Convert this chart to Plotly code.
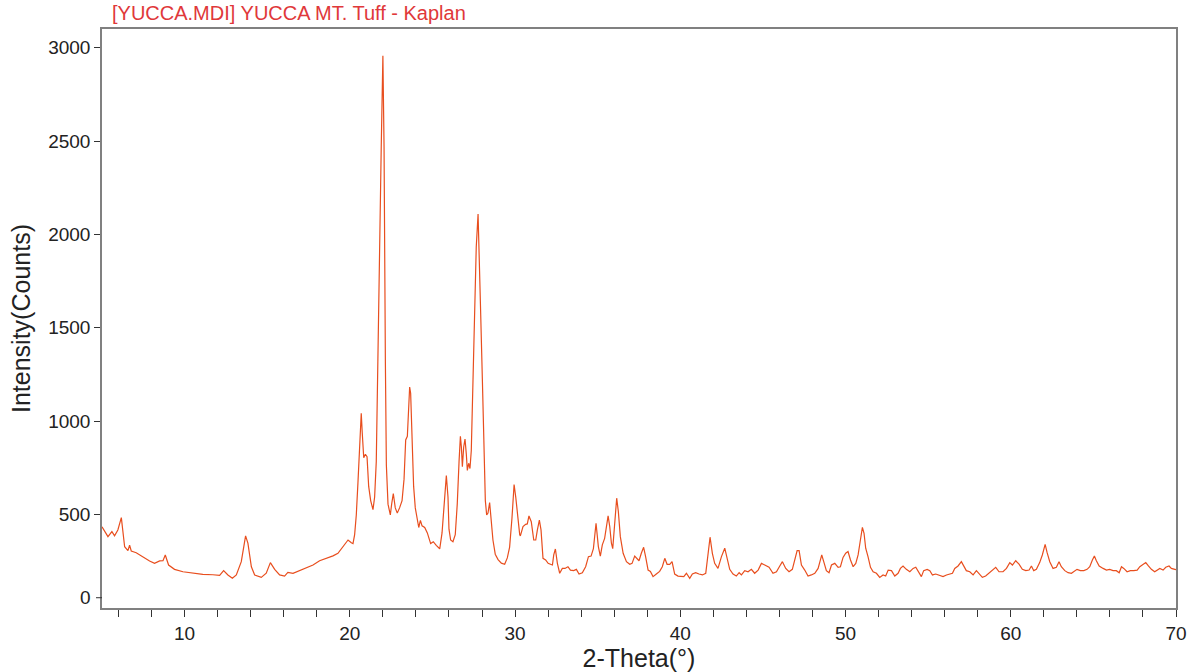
import plotly.graph_objects as go

two_theta = [
    5.0, 5.36, 5.6, 5.76, 5.96, 6.17, 6.37, 6.57, 6.67, 6.77, 7.07, 7.48, 7.88, 8.18, 8.49, 8.69, 8.83,
    9.03, 9.39, 9.9, 10.5, 11.1, 11.71, 12.12, 12.36, 12.62, 12.89, 13.13, 13.43, 13.69, 13.83, 14.04,
    14.24, 14.64, 14.94, 15.19, 15.45, 15.75, 16.05, 16.25, 16.56, 16.96, 17.37, 17.77, 18.17, 18.58,
    18.98, 19.28, 19.58, 19.89, 20.09, 20.19,
    20.29, 20.39, 20.49, 20.59, 20.69, 20.75, 20.84, 20.94, 21.04, 21.14, 21.26, 21.4, 21.5, 21.6,
    21.7, 21.8, 21.9, 22.0, 22.07, 22.15, 22.21, 22.31, 22.45, 22.53, 22.63, 22.75, 22.87, 23.01,
    23.16, 23.28, 23.38, 23.48, 23.56, 23.62, 23.68, 23.76, 23.86, 23.96, 24.06, 24.17, 24.27, 24.37,
    24.53, 24.69, 24.89, 25.05, 25.23, 25.44, 25.58, 25.7, 25.84, 25.94, 26.0, 26.1, 26.24, 26.38,
    26.5, 26.61, 26.69, 26.75, 26.81, 26.89, 26.97, 27.05, 27.11, 27.19, 27.27, 27.35, 27.45, 27.55,
    27.65, 27.76, 27.82, 27.92, 28.02, 28.12, 28.2, 28.28, 28.36, 28.46, 28.56, 28.66, 28.8, 28.97,
    29.17, 29.37, 29.53, 29.67, 29.81, 29.94, 30.04, 30.14, 30.28,
    30.32, 30.48, 30.64, 30.74, 30.84, 30.98, 31.13, 31.25, 31.35, 31.47, 31.57, 31.69, 31.85, 32.0,
    32.14, 32.26, 32.34, 32.44, 32.56, 32.7, 32.86, 33.02, 33.2, 33.35, 33.55, 33.71, 33.87, 34.07,
    34.27, 34.44, 34.6, 34.74, 34.9, 35.04, 35.16, 35.28, 35.42, 35.52, 35.63, 35.73, 35.83, 35.91,
    36.03, 36.15, 36.25, 36.37, 36.54, 36.74, 36.94, 37.08, 37.24, 37.38, 37.5, 37.64, 37.78, 37.9,
    38.05, 38.19, 38.35, 38.55, 38.75, 38.91, 39.06, 39.2, 39.36, 39.5, 39.66, 39.86, 40.07, 40.21,
    40.37, 40.57, 40.73, 40.93, 41.13, 41.34, 41.54, 41.68, 41.8, 41.94, 42.08, 42.28,
    42.49, 42.69, 42.83, 42.99, 43.19, 43.39, 43.56, 43.7, 43.9, 44.1, 44.3, 44.5, 44.71, 44.91, 45.11,
    45.37, 45.61, 45.82, 46.02, 46.18, 46.38, 46.58, 46.78, 46.93, 47.07, 47.19, 47.33, 47.53, 47.73,
    47.93, 48.14, 48.34, 48.44, 48.56, 48.68, 48.84, 49.0, 49.15, 49.35, 49.55, 49.69, 49.85, 50.01,
    50.15, 50.3, 50.46, 50.62, 50.76, 50.9, 51.02, 51.12, 51.22, 51.36, 51.51, 51.67, 51.87, 52.07,
    52.27, 52.43, 52.58, 52.78, 52.98, 53.18, 53.32, 53.48, 53.68, 53.89, 54.09, 54.25, 54.39, 54.59,
    54.73, 54.94, 55.1, 55.26, 55.46, 55.66, 55.9, 56.11, 56.31,
    56.47, 56.61, 56.81, 57.01, 57.15, 57.31, 57.52, 57.72, 57.92, 58.08, 58.28, 58.48, 58.69, 58.89,
    59.09, 59.29, 59.53, 59.74, 59.94, 60.1, 60.3, 60.5, 60.7, 60.91, 61.11, 61.25, 61.39, 61.55,
    61.75, 61.91, 62.08, 62.2, 62.36, 62.56, 62.76, 62.92, 63.06, 63.27, 63.47, 63.67, 63.87, 64.01,
    64.21, 64.42, 64.62, 64.78, 64.94, 65.06, 65.18, 65.35, 65.59, 65.79, 65.99, 66.19, 66.39, 66.56,
    66.7, 66.84, 67.04, 67.24, 67.44, 67.65, 67.81, 67.97, 68.17, 68.33, 68.51, 68.71, 68.86, 69.02,
    69.22, 69.38, 69.58, 69.72, 69.93, 70.0,
]

counts = [
    435, 382, 409, 387, 418, 484, 328, 307, 337, 305, 296, 272, 252, 239, 252, 253, 284,
    230, 207, 194, 186, 180, 178, 175, 200, 177, 159, 177, 248, 386, 347, 221,
    177, 164, 186, 243, 207, 177, 171, 191, 186, 200, 213, 230, 253, 266,
    279, 293, 328, 364, 349, 345,
    393, 498, 670, 843, 1043, 938, 804, 823, 810, 651, 575, 527, 594, 785,
    1416, 1857, 2469, 2957, 2469, 1321, 766, 556, 498, 556, 613, 536, 508, 536,
    575, 690, 900, 919, 1053, 1183, 1150, 919, 651, 536, 479, 431, 469, 440,
    431, 402, 345, 355, 335, 317, 402, 556, 709, 594, 422, 364, 355, 393,
    556, 785, 919, 862, 756, 862, 904, 823, 737, 775, 747, 843, 1225, 1608,
    1933, 2109, 1945, 1570, 1225, 785, 575, 498, 508, 565, 460, 364, 288, 259,
    240, 234, 268, 326, 479, 661, 594, 498, 393,
    386, 436, 448, 450, 493, 462, 364, 364, 418, 471, 418, 266, 257, 239,
    234, 230, 284, 316, 239, 186, 212, 212, 221, 203, 200, 207, 182, 189,
    221, 275, 278, 318, 454, 329, 278, 338, 373, 445, 493, 436, 347, 318,
    454, 588, 516, 382, 293, 248, 234, 239, 278, 266, 253, 293, 325, 275,
    203, 196, 168, 182, 196, 221, 266, 234, 234, 248, 182, 171, 171, 168,
    186, 159, 182, 189, 182, 177, 186, 293, 379, 293, 239, 212,
    275, 320, 266, 207, 182, 171, 189, 177, 200, 194, 207, 186, 203, 239, 230,
    218, 186, 194, 225, 248, 212, 194, 207, 257, 307, 307, 230, 203, 171,
    177, 186, 212, 243, 284, 248, 200, 189, 230, 239, 218, 221, 271, 293,
    302, 257, 221, 239, 284, 364, 432, 400, 320, 275, 218, 194, 186, 164,
    177, 171, 203, 200, 171, 186, 212, 225, 207, 194, 212, 218, 200, 168,
    200, 207, 200, 177, 182, 177, 168, 177, 182,
    186, 212, 225, 248, 225, 200, 194, 177, 200, 182, 164, 171, 186, 200,
    218, 194, 194, 212, 243, 230, 253, 235, 207, 200, 203, 225, 200, 207,
    243, 284, 341, 296, 248, 212, 218, 248, 221, 200, 189, 186, 200, 207,
    200, 200, 207, 221, 257, 278, 253, 225, 212, 203, 207, 200, 200, 189,
    221, 212, 194, 200, 200, 203, 221, 230, 243, 225, 207, 194, 203, 212,
    203, 218, 225, 212, 207, 205,
]

x_tick_vals = list(range(6, 71, 2))
x_tick_text = [str(v) if v % 10 == 0 else "" for v in x_tick_vals]
y_ticks = [500, 1000, 1500, 2000, 2500, 3000]
title_text = "[YUCCA.MDI] YUCCA MT. Tuff - Kaplan"
x_title = "2-Theta(°)"
y_title = "Intensity(Counts)"

FONT = "Liberation Sans, Arial, sans-serif"
AXIS_COLOR = "#808080"
TICK_COLOR = "#333333"

fig = go.Figure()
fig.add_trace(go.Scatter(
    x=two_theta, y=counts, mode="lines",
    line=dict(color="rgb(232,78,30)", width=1.2),
    showlegend=False, hoverinfo="x+y",
))

fig.update_layout(
    width=1193, height=672,
    margin=dict(l=102, r=17, t=29, b=64, autoexpand=False),
    paper_bgcolor="white", plot_bgcolor="white",
    font=dict(family=FONT, color="#222222"),
    annotations=[
        dict(text=title_text, xref="paper", yref="paper", x=0.007, y=1.0, yanchor="bottom",
             xanchor="left", yshift=3, showarrow=False,
             font=dict(family=FONT, size=20, color="#e0383a")),
        dict(text="0", xref="paper", yref="y", x=0, y=55, xanchor="right", yanchor="middle",
             xshift=-9, showarrow=False, font=dict(family=FONT, size=19, color="#222222")),
    ],
    shapes=[
        dict(type="line", xref="paper", yref="y", xsizemode="pixel", xanchor=0,
             x0=-6, x1=0, y0=55, y1=55, line=dict(color=TICK_COLOR, width=1)),
    ],
)

fig.update_xaxes(
    range=[5, 70], tickvals=x_tick_vals, ticktext=x_tick_text, automargin=False,
    showgrid=False, zeroline=False,
    showline=True, linecolor=AXIS_COLOR, linewidth=1.5, mirror=True,
    ticks="outside", ticklen=7, tickcolor=TICK_COLOR, tickwidth=1,
    tickfont=dict(family=FONT, size=19, color="#222222"),
    title=dict(text=x_title, font=dict(family=FONT, size=25, color="#222222"), standoff=6),
)
fig.update_yaxes(
    range=[0, 3100], tickvals=y_ticks, automargin=False,
    showgrid=False, zeroline=False,
    showline=True, linecolor=AXIS_COLOR, linewidth=1.5, mirror=True,
    ticks="outside", ticklen=6, tickcolor=TICK_COLOR, tickwidth=1,
    tickfont=dict(family=FONT, size=19, color="#222222"),
    title=dict(text=y_title, font=dict(family=FONT, size=25, color="#222222"), standoff=10),
)

# remove the default 8px page margin so the figure fills the window exactly
fig.write_html(
    "out.html",
    config={"displayModeBar": False},
    post_script="document.body.style.margin='0px';document.body.style.overflow='hidden';",
)
